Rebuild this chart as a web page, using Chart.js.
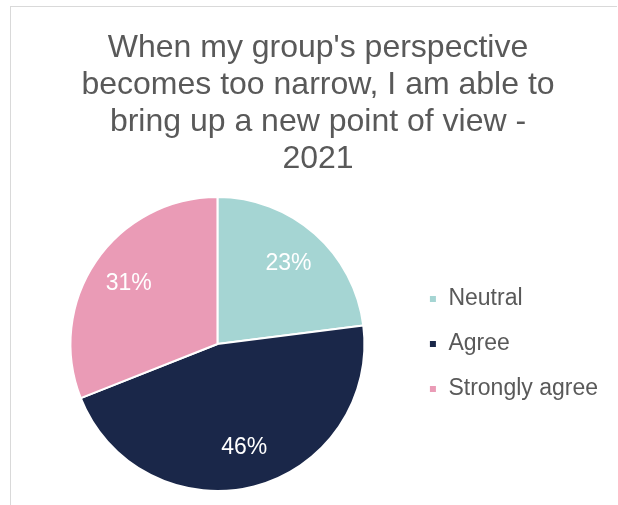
<!DOCTYPE html>
<html>
<head>
<meta charset="utf-8">
<script src="https://cdn.jsdelivr.net/npm/chart.js@4"></script>
<style>
  html, body { margin: 0; padding: 0; background: #fff; }
  #wrap { position: relative; width: 618px; height: 505px; }
  #frame {
    position: absolute; left: 10px; top: 6px; width: 606px; height: 499px;
    border-top: 1px solid #d9d9d9; border-left: 1px solid #d9d9d9;
  }
  canvas { position: absolute; left: 0; top: 0; }
</style>
</head>
<body>
<div id="wrap">
  <div id="frame"></div>
  <canvas id="chart" width="618" height="505"></canvas>
</div>
<script>
const titleLines = [
  "When my group's perspective",
  "becomes too narrow, I am able to",
  "bring up a new point of view -",
  "2021"
];
const categories = ["Neutral", "Agree", "Strongly agree"];
const shares = [23, 46, 31];
const sliceColors = ["#a5d5d3", "#1a2749", "#ea9bb6"];

const fontFamily = "'Liberation Sans', Arial, sans-serif";

// percent labels inside the slices
const sliceLabels = {
  id: "sliceLabels",
  afterDatasetsDraw(chart) {
    const ctx = chart.ctx;
    const meta = chart.getDatasetMeta(0);
    ctx.save();
    ctx.fillStyle = "#ffffff";
    ctx.font = "23px " + fontFamily;
    ctx.textAlign = "center";
    ctx.textBaseline = "middle";
    meta.data.forEach((arc, i) => {
      const { x, y, startAngle, endAngle, outerRadius } = arc.getProps(
        ["x", "y", "startAngle", "endAngle", "outerRadius"], true);
      const mid = (startAngle + endAngle) / 2;
      const r = outerRadius * 0.73;
      ctx.fillText(shares[i] + "%", x + Math.cos(mid) * r, y + Math.sin(mid) * r);
    });
    ctx.restore();
  }
};

new Chart(document.getElementById("chart"), {
  type: "pie",
  data: {
    labels: categories,
    datasets: [{
      data: shares,
      backgroundColor: sliceColors,
      borderColor: "#ffffff",
      borderWidth: 2
    }]
  },
  options: {
    responsive: false,
    animation: false,
    layout: { padding: { left: 28, right: 10, top: 0, bottom: 13 } },
    plugins: {
      title: {
        display: true,
        text: titleLines,
        color: "#595959",
        font: { family: fontFamily, size: 32, weight: "normal", lineHeight: 37 / 32 },
        padding: { top: 30, bottom: 18 }
      },
      legend: {
        position: "right",
        fullSize: false,
        labels: {
          boxWidth: 8,
          boxHeight: 8,
          padding: 22,
          color: "#595959",
          font: { family: fontFamily, size: 23 }
        }
      },
      tooltip: { enabled: false }
    }
  },
  plugins: [sliceLabels]
});
</script>
</body>
</html>
